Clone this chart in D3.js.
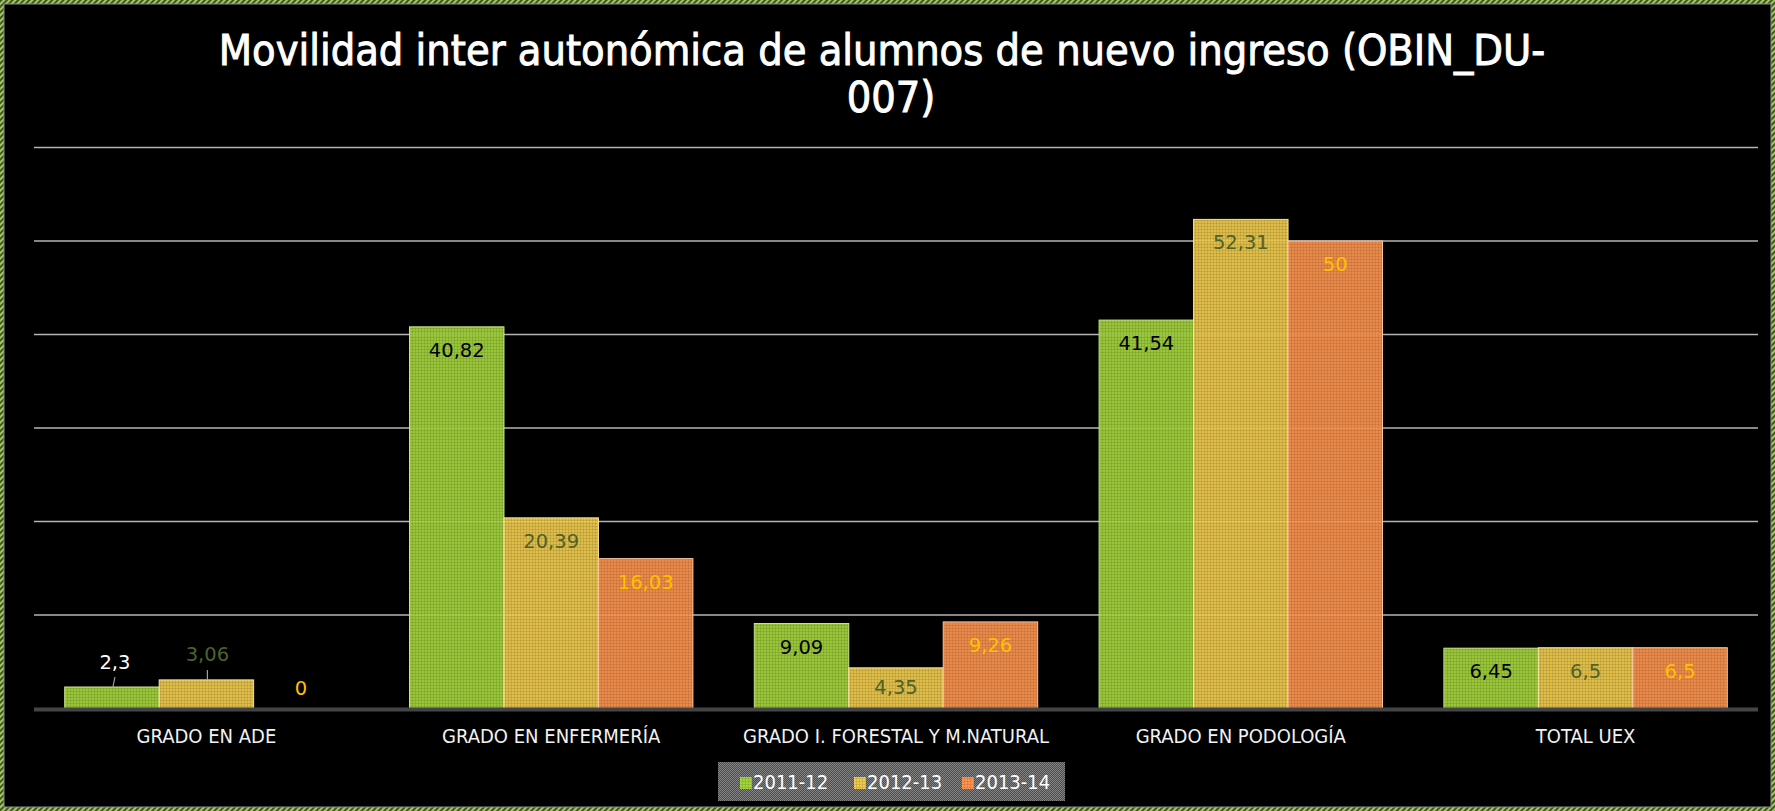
<!DOCTYPE html>
<html>
<head>
<meta charset="utf-8">
<script src="https://cdn.jsdelivr.net/npm/d3@7"></script>
<style>
  html, body { margin: 0; padding: 0; background: #000; }
  svg { display: block; }
  text { font-family: "DejaVu Sans Condensed", "DejaVu Sans", sans-serif; font-stretch: condensed; }
  text.num { font-family: "DejaVu Sans", sans-serif; font-stretch: normal; }
</style>
</head>
<body>
<svg id="chart" width="1775" height="811"></svg>
<script>
const categories = ["GRADO EN ADE", "GRADO EN ENFERMERÍA", "GRADO I. FORESTAL Y M.NATURAL", "GRADO EN PODOLOGÍA", "TOTAL UEX"];
const seriesNames = ["2011-12", "2012-13", "2013-14"];
const values2011 = [2.3, 40.82, 9.09, 41.54, 6.45];
const values2012 = [3.06, 20.39, 4.35, 52.31, 6.5];
const values2013 = [0, 16.03, 9.26, 50, 6.5];
const yTicks = [0, 10, 20, 30, 40, 50, 60];
const titleLines = ["Movilidad inter autonómica de alumnos de nuevo ingreso (OBIN_DU-", "007)"];

const W = 1775, H = 811;
const margin = { top: 147.5, right: 17, bottom: 102.5, left: 34 };

const svg = d3.select("#chart");
const defs = svg.append("defs");

// bar colours: light cell, dark grid, outline, label colour
const styles = [
  { light: "#a6d440", dark: "#6f9624", edge: "#c9e38a", label: "#000000", outside: "#ffffff" },
  { light: "#efcc4e", dark: "#a98f35", edge: "#f6e49a", label: "#4f6228", outside: "#4f6228" },
  { light: "#fc9450", dark: "#b96a37", edge: "#f9c7a2", label: "#ffc000", outside: "#ffc000" }
];

styles.forEach((s, i) => {
  const p = defs.append("pattern").attr("id", "pat" + i)
    .attr("patternUnits", "userSpaceOnUse").attr("width", 3).attr("height", 3);
  p.append("rect").attr("width", 3).attr("height", 3).attr("fill", s.light);
  p.append("rect").attr("y", 1).attr("width", 3).attr("height", 1).attr("fill", s.dark).attr("opacity", 0.35);
  p.append("rect").attr("x", 1).attr("width", 1).attr("height", 3).attr("fill", s.dark).attr("opacity", 0.35);
});

const lp = defs.append("pattern").attr("id", "legpat")
  .attr("patternUnits", "userSpaceOnUse").attr("width", 2).attr("height", 2);
lp.append("rect").attr("width", 2).attr("height", 2).attr("fill", "#4c4c4c");
lp.append("rect").attr("width", 1).attr("height", 1).attr("fill", "#858585");
lp.append("rect").attr("x", 1).attr("y", 1).attr("width", 1).attr("height", 1).attr("fill", "#858585");

const bp = defs.append("pattern").attr("id", "borderpat")
  .attr("patternUnits", "userSpaceOnUse").attr("width", 4).attr("height", 4)
  .attr("patternTransform", "rotate(45)");
bp.append("rect").attr("width", 4).attr("height", 4).attr("fill", "#a6c46a");
bp.append("rect").attr("width", 2).attr("height", 4).attr("fill", "#3d5a1e");

// frame
svg.append("rect").attr("width", W).attr("height", H).attr("fill", "url(#borderpat)");
svg.append("rect").attr("x", 4).attr("y", 4).attr("width", W - 8).attr("height", H - 8)
  .attr("fill", "#000").attr("stroke", "#8c8c8c").attr("stroke-width", 1);

// title
const title = svg.append("g").attr("fill", "#fff").attr("stroke", "#fff").attr("stroke-width", 0.9);
const t1 = title.append("text").attr("x", 882).attr("y", 65).attr("text-anchor", "middle")
  .attr("font-size", 40).text(titleLines[0]);
const fit = 1327 / t1.node().getComputedTextLength();
const titleSize = 40 * fit;
t1.attr("font-size", titleSize);
title.append("text").attr("x", 891).attr("y", 112).attr("text-anchor", "middle")
  .attr("font-size", titleSize).text(titleLines[1]);

const x0 = d3.scaleBand().domain(categories)
  .range([margin.left, W - margin.right]).padding(0);
const groupW = x0.step() * 3 / 3.65;
const x1 = d3.scaleBand().domain(seriesNames).range([0, groupW]);
const y = d3.scaleLinear().domain([0, 60]).range([H - margin.bottom, margin.top]);

// grid
svg.append("g").selectAll("line").data(yTicks.slice(1)).join("line")
  .attr("x1", margin.left).attr("x2", W - margin.right)
  .attr("y1", d => y(d)).attr("y2", d => y(d))
  .attr("stroke", "#b4b4b4").attr("stroke-width", 1.5);

const data = seriesNames.map((s, i) => ({
  name: s, idx: i, values: [values2011, values2012, values2013][i]
}));

const fmt = v => String(v).replace(".", ",");

const groups = svg.append("g").selectAll("g").data(data).join("g");

groups.selectAll("rect").data(d => d.values.map((v, j) => ({ v, j, s: d.idx, name: d.name })))
  .join("rect")
  .attr("x", d => x0(categories[d.j]) + (x0.step() - groupW) / 2 + x1(d.name))
  .attr("width", x1.bandwidth())
  .attr("y", d => y(d.v))
  .attr("height", d => y(0) - y(d.v))
  .attr("fill", d => `url(#pat${d.s})`)
  .attr("fill-opacity", d => d.v > 0 ? 0.93 : 0)
  .attr("stroke", d => d.v > 0 ? styles[d.s].edge : "none")
  .attr("stroke-width", 1);

// x axis line
svg.append("line").attr("x1", margin.left).attr("x2", W - margin.right)
  .attr("y1", y(0) + 1).attr("y2", y(0) + 1)
  .attr("stroke", "#444").attr("stroke-width", 4);

// data labels
const labels = svg.append("g").attr("font-size", 19.5).attr("text-anchor", "middle");
data.forEach(d => {
  d.values.forEach((v, j) => {
    const cx = x0(categories[j]) + (x0.step() - groupW) / 2 + x1(d.name) + x1.bandwidth() / 2;
    const st = styles[d.idx];
    if (v >= 4) {
      labels.append("text").attr("class", "num").attr("x", cx)
        .attr("y", Math.min(y(v) + 30, y(0) - 15))
        .attr("fill", st.label).text(fmt(v));
    } else if (v === 0) {
      labels.append("text").attr("class", "num").attr("x", cx).attr("y", y(0) - 14)
        .attr("fill", st.outside).text(fmt(v));
    } else {
      const lx = cx + (d.idx === 0 ? 3 : 1);
      labels.append("line").attr("x1", cx + 1).attr("y1", y(v))
        .attr("x2", lx).attr("y2", y(v) - 10)
        .attr("stroke", "#a0a0a0").attr("stroke-width", 1.2);
      labels.append("text").attr("class", "num").attr("x", lx).attr("y", y(v) - (d.idx === 0 ? 18 : 19))
        .attr("fill", st.outside).text(fmt(v));
    }
  });
});

// category labels
svg.append("g").selectAll("text").data(categories).join("text")
  .attr("x", d => x0(d) + x0.step() / 2)
  .attr("y", 743)
  .attr("text-anchor", "middle")
  .attr("font-size", 20)
  .attr("fill", "#f2f2f2")
  .text(d => d);

// legend
const leg = svg.append("g");
leg.append("rect").attr("x", 718).attr("y", 762).attr("width", 347).attr("height", 39)
  .attr("fill", "url(#legpat)");
const legX = [740, 854, 962];
seriesNames.forEach((s, i) => {
  leg.append("rect").attr("x", legX[i]).attr("y", 777).attr("width", 12).attr("height", 12)
    .attr("fill", `url(#pat${i})`);
  leg.append("text").attr("x", legX[i] + 13).attr("y", 789)
    .attr("font-size", 20).attr("fill", "#fff").text(s);
});
</script>
</body>
</html>
